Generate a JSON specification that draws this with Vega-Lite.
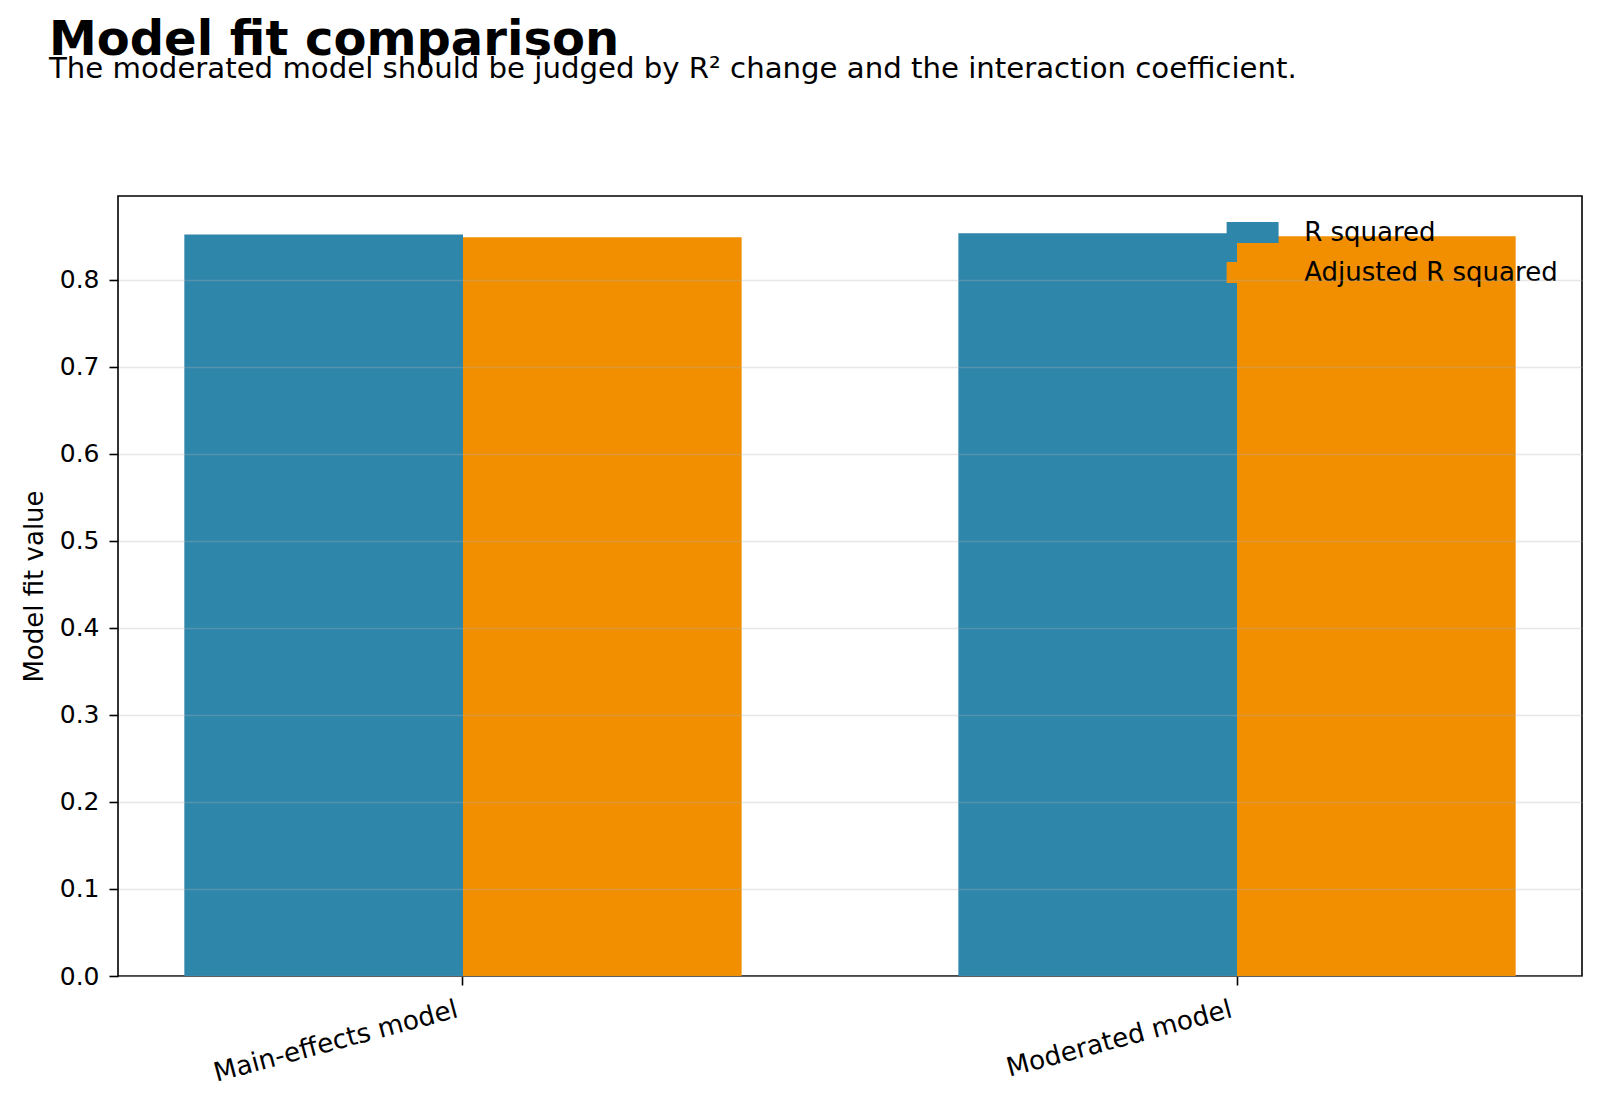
{
  "$schema": "https://vega.github.io/schema/vega-lite/v6.json",
  "width": 1464,
  "height": 780,
  "autosize": {"type": "none"},
  "padding": {"left": 118, "top": 196, "right": 18, "bottom": 130},
  "background": "white",
  "title": {
    "text": "Model fit comparison",
    "subtitle": "The moderated model should be judged by R² change and the interaction coefficient.",
    "anchor": "start",
    "frame": "group",
    "dx": -69,
    "offset": 112,
    "font": "DejaVu Sans",
    "fontSize": 48,
    "fontWeight": "bold",
    "color": "black",
    "subtitleFont": "DejaVu Sans",
    "subtitleFontSize": 29.2,
    "subtitleColor": "black",
    "subtitlePadding": -10
  },
  "data": {
    "values": [
      {"model": "Main-effects model", "metric": "R squared", "value": 0.852},
      {"model": "Main-effects model", "metric": "Adjusted R squared", "value": 0.849},
      {"model": "Moderated model", "metric": "R squared", "value": 0.8536},
      {"model": "Moderated model", "metric": "Adjusted R squared", "value": 0.8501}
    ]
  },
  "mark": {"type": "bar"},
  "encoding": {
    "x": {
      "field": "model",
      "type": "nominal",
      "sort": ["Main-effects model", "Moderated model"],
      "scale": {"paddingInner": 0.28, "paddingOuter": 0.0857},
      "axis": {
        "title": null,
        "labelAngle": -15,
        "labelAlign": "right",
        "labelBaseline": "top",
        "labelFontSize": 26.3,
        "labelPadding": 11,
        "labelOffset": -9,
        "labelLimit": 0,
        "grid": false
      }
    },
    "xOffset": {
      "field": "metric",
      "sort": ["R squared", "Adjusted R squared"],
      "scale": {"paddingInner": 0, "paddingOuter": 0}
    },
    "y": {
      "field": "value",
      "type": "quantitative",
      "scale": {"domain": [0, 0.8963], "nice": false, "zero": true},
      "axis": {
        "title": "Model fit value",
        "values": [0, 0.1, 0.2, 0.3, 0.4, 0.5, 0.6, 0.7, 0.8],
        "format": ".1f",
        "grid": true,
        "gridColor": "#b0b0b0",
        "gridOpacity": 0.3,
        "gridWidth": 1.6,
        "labelPadding": 10,
        "titlePadding": 12,
        "zindex": 1
      }
    },
    "color": {
      "field": "metric",
      "type": "nominal",
      "sort": ["R squared", "Adjusted R squared"],
      "scale": {"domain": ["R squared", "Adjusted R squared"], "range": ["#2E86AB", "#F18F01"]},
      "legend": {
        "orient": "none",
        "legendX": 1121.6,
        "legendY": 23.5,
        "title": null,
        "padding": 0,
        "symbolType": "M-2.5,-1H2.5V1H-2.5Z",
        "symbolSize": 432,
        "symbolStrokeWidth": 0,
        "symbolOpacity": 1,
        "labelFont": "DejaVu Sans",
        "labelFontSize": 26,
        "labelColor": "black",
        "labelOffset": 38.6,
        "labelLimit": 0,
        "rowPadding": 14
      }
    }
  },
  "config": {
    "view": {"stroke": "black", "strokeWidth": 1.6},
    "axis": {
      "domain": false,
      "labelFont": "DejaVu Sans",
      "labelFontSize": 25,
      "labelColor": "black",
      "tickColor": "black",
      "tickSize": 9,
      "tickWidth": 1.6,
      "titleFont": "DejaVu Sans",
      "titleFontSize": 26,
      "titleFontWeight": "normal",
      "titleColor": "black"
    }
  }
}
